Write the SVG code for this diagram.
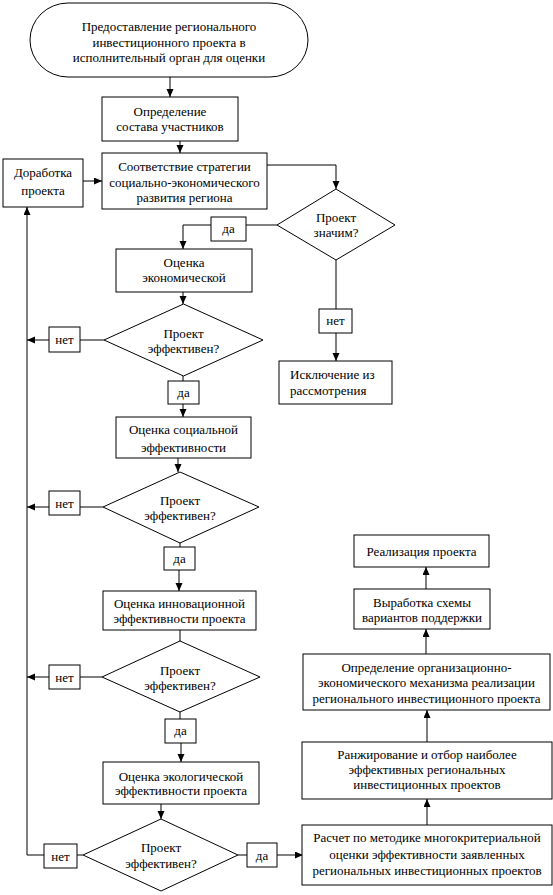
<svg xmlns="http://www.w3.org/2000/svg" width="553" height="895" viewBox="0 0 553 895" font-family="'Liberation Serif', 'Times New Roman', serif">
<defs>
<marker id="ah" markerUnits="userSpaceOnUse" markerWidth="9" markerHeight="8" refX="8" refY="3.5" orient="auto">
<path d="M0,0 L8,3.5 L0,7 z" fill="#000"/>
</marker>
<style>
.b{fill:#fff;stroke:#000;stroke-width:1}
.t{font-family:'Liberation Serif','Times New Roman',serif;font-size:13px;fill:#000;text-anchor:middle}
.l{text-anchor:start}
.c{fill:none;stroke:#000;stroke-width:1}
.a{marker-end:url(#ah)}
</style>
</defs>
<rect width="553" height="895" fill="#fff"/>
<g id="connectors">
<line class="c a" x1="170" y1="77" x2="170" y2="97"/>
<line class="c a" x1="180" y1="141" x2="180" y2="153"/>
<line class="c a" x1="83" y1="181" x2="102" y2="181"/>
<polyline class="c a" points="267,165 336,165 336,189"/>
<line class="c" x1="277" y1="225" x2="246" y2="225"/>
<polyline class="c a" points="211,225 183,225 183,249"/>
<line class="c" x1="336" y1="260" x2="336" y2="309"/>
<line class="c a" x1="336" y1="333" x2="336" y2="361"/>
<line class="c a" x1="183" y1="292" x2="183" y2="304"/>
<line class="c" x1="104" y1="340" x2="80" y2="340"/>
<line class="c a" x1="49" y1="340" x2="27" y2="340"/>
<line class="c" x1="183" y1="376" x2="183" y2="381"/>
<line class="c a" x1="183" y1="404" x2="183" y2="417"/>
<line class="c a" x1="178" y1="458" x2="178" y2="472"/>
<line class="c" x1="103" y1="507" x2="80" y2="507"/>
<line class="c a" x1="49" y1="507" x2="27" y2="507"/>
<line class="c" x1="180" y1="543" x2="180" y2="547"/>
<line class="c a" x1="179" y1="570" x2="179" y2="591"/>
<line class="c" x1="180" y1="630" x2="180" y2="641"/>
<line class="c" x1="102" y1="677" x2="80" y2="677"/>
<line class="c a" x1="49" y1="677" x2="27" y2="677"/>
<line class="c" x1="180" y1="712" x2="180" y2="719"/>
<line class="c a" x1="181" y1="743" x2="181" y2="762"/>
<line class="c a" x1="161" y1="804" x2="161" y2="819"/>
<line class="c" x1="83" y1="855" x2="77" y2="855"/>
<polyline class="c a" points="44,855 27,855 27,207"/>
<line class="c" x1="238" y1="855" x2="247" y2="855"/>
<line class="c a" x1="277" y1="855" x2="303" y2="855"/>
<line class="c a" x1="427" y1="825" x2="427" y2="799"/>
<line class="c a" x1="427" y1="742" x2="427" y2="710"/>
<line class="c a" x1="426" y1="654" x2="426" y2="629"/>
<line class="c a" x1="426" y1="589" x2="426" y2="567"/>
</g>
<g id="start">
<path class="b" d="M68,3 H270 A38,37 0 0 1 270,77 H68 A38,37 0 0 1 68,3 Z"/>
<text class="t"><tspan x="169" y="31">Предоставление регионального</tspan><tspan x="169" y="47">инвестиционного проекта в</tspan><tspan x="169" y="62">исполнительный орган для оценки</tspan></text>
</g>
<g id="participants">
<rect class="b" x="102" y="97" width="136" height="44"/>
<text class="t"><tspan x="170" y="116">Определение</tspan><tspan x="170" y="131">состава участников</tspan></text>
</g>
<g id="strategy">
<rect class="b" x="102" y="153" width="165" height="56"/>
<text class="t"><tspan x="184.5" y="171">Соответствие стратегии</tspan><tspan x="184.5" y="187">социально-экономического</tspan><tspan x="184.5" y="202">развития региона</tspan></text>
</g>
<g id="rework">
<rect class="b" x="3" y="159" width="80" height="48"/>
<text class="t"><tspan x="43" y="177">Доработка</tspan><tspan x="43" y="195">проекта</tspan></text>
</g>
<g id="significant">
<polygon class="b" points="336,189 395,225 336,260 277,225"/>
<text class="t"><tspan x="336" y="222">Проект</tspan><tspan x="336" y="237">значим?</tspan></text>
</g>
<g id="yes0">
<rect class="b" x="211" y="217" width="35" height="24"/>
<text class="t" x="228.5" y="233">да</text>
</g>
<g id="no0">
<rect class="b" x="319" y="309" width="33" height="24"/>
<text class="t" x="335.5" y="325">нет</text>
</g>
<g id="exclude">
<rect class="b" x="279" y="361" width="113" height="43"/>
<text class="t l"><tspan x="290" y="379">Исключение из</tspan><tspan x="290" y="395">рассмотрения</tspan></text>
</g>
<g id="econ">
<rect class="b" x="116" y="249" width="136" height="43"/>
<text class="t"><tspan x="184" y="267">Оценка</tspan><tspan x="184" y="282">экономической</tspan></text>
</g>
<g id="d1">
<polygon class="b" points="183.5,304 263,340 183.5,376 104,340"/>
<text class="t"><tspan x="183.5" y="338">Проект</tspan><tspan x="183.5" y="353">эффективен?</tspan></text>
</g>
<g id="no1">
<rect class="b" x="49" y="327" width="31" height="25"/>
<text class="t" x="64.5" y="344">нет</text>
</g>
<g id="yes1">
<rect class="b" x="168" y="381" width="31" height="23"/>
<text class="t" x="183.5" y="397">да</text>
</g>
<g id="social">
<rect class="b" x="116" y="417" width="135" height="41"/>
<text class="t"><tspan x="183.5" y="434">Оценка социальной</tspan><tspan x="183.5" y="452">эффективности</tspan></text>
</g>
<g id="d2">
<polygon class="b" points="180,472 259,507 180,543 103,507"/>
<text class="t"><tspan x="180" y="505">Проект</tspan><tspan x="180" y="520">эффективен?</tspan></text>
</g>
<g id="no2">
<rect class="b" x="49" y="491" width="31" height="24"/>
<text class="t" x="64.5" y="508">нет</text>
</g>
<g id="yes2">
<rect class="b" x="164" y="547" width="31" height="23"/>
<text class="t" x="179.5" y="563">да</text>
</g>
<g id="innov">
<rect class="b" x="103" y="591" width="153" height="39"/>
<text class="t"><tspan x="179.5" y="608">Оценка инновационной</tspan><tspan x="179.5" y="623">эффективности проекта</tspan></text>
</g>
<g id="d3">
<polygon class="b" points="180,641 260,677 180,712 102,677"/>
<text class="t"><tspan x="180" y="675">Проект</tspan><tspan x="180" y="690">эффективен?</tspan></text>
</g>
<g id="no3">
<rect class="b" x="49" y="665" width="31" height="24"/>
<text class="t" x="64.5" y="682">нет</text>
</g>
<g id="yes3">
<rect class="b" x="165" y="719" width="31" height="24"/>
<text class="t" x="180.5" y="735">да</text>
</g>
<g id="ecolog">
<rect class="b" x="103" y="762" width="156" height="42"/>
<text class="t"><tspan x="181" y="781">Оценка экологической</tspan><tspan x="181" y="795">эффективности проекта</tspan></text>
</g>
<g id="d4">
<polygon class="b" points="161,819 238,855 161,891 83,855"/>
<text class="t"><tspan x="161" y="852">Проект</tspan><tspan x="161" y="868">эффективен?</tspan></text>
</g>
<g id="no4">
<rect class="b" x="44" y="844" width="33" height="24"/>
<text class="t" x="60.5" y="861">нет</text>
</g>
<g id="yes4">
<rect class="b" x="247" y="843" width="30" height="24"/>
<text class="t" x="262" y="860">да</text>
</g>
<g id="calc">
<rect class="b" x="302" y="825" width="250" height="60"/>
<text class="t"><tspan x="427" y="842">Расчет по методике многокритериальной</tspan><tspan x="427" y="859">оценки эффективности заявленных</tspan><tspan x="427" y="875">региональных инвестиционных проектов</tspan></text>
</g>
<g id="rank">
<rect class="b" x="302" y="742" width="250" height="57"/>
<text class="t"><tspan x="427" y="759">Ранжирование и отбор наиболее</tspan><tspan x="427" y="774">эффективных региональных</tspan><tspan x="427" y="789">инвестиционных проектов</tspan></text>
</g>
<g id="mechanism">
<rect class="b" x="303" y="654" width="247" height="56"/>
<text class="t"><tspan x="426.5" y="672">Определение организационно-</tspan><tspan x="426.5" y="687">экономического механизма реализации</tspan><tspan x="426.5" y="703">регионального инвестиционного проекта</tspan></text>
</g>
<g id="support">
<rect class="b" x="354" y="589" width="136" height="40"/>
<text class="t"><tspan x="422" y="607">Выработка схемы</tspan><tspan x="422" y="622">вариантов поддержки</tspan></text>
</g>
<g id="realize">
<rect class="b" x="354" y="535" width="135" height="32"/>
<text class="t" x="421.5" y="556">Реализация проекта</text>
</g>
</svg>
